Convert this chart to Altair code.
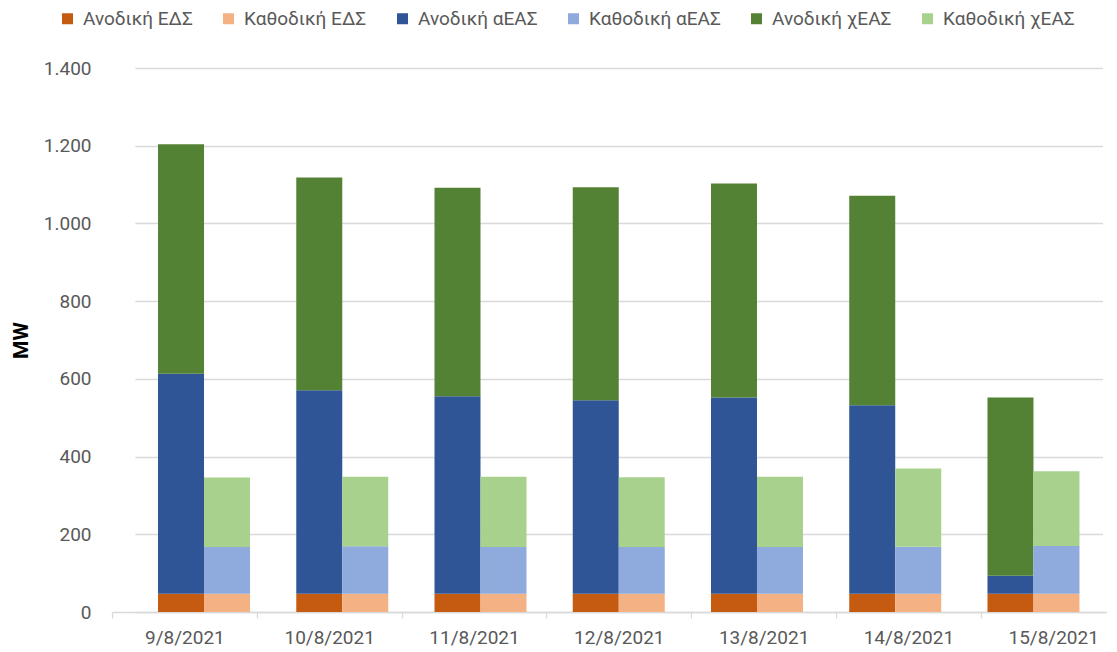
import altair as alt
import pandas as pd

dates = ["9/8/2021", "10/8/2021", "11/8/2021", "12/8/2021", "13/8/2021", "14/8/2021", "15/8/2021"]
directions = ["Ανοδική", "Καθοδική"]
types = ["ΕΔΣ", "αΕΑΣ", "χΕΑΣ"]

up_eds = [47, 47, 47, 47, 47, 47, 47]
up_a = [566, 524, 508, 498, 505, 485, 46]
up_x = [591, 547, 537, 548, 551, 539, 459]
down_eds = [47, 47, 47, 47, 47, 47, 47]
down_a = [120, 122, 120, 120, 120, 121, 123]
down_x = [179, 179, 181, 180, 181, 201, 192]

series_order = ["Ανοδική ΕΔΣ", "Καθοδική ΕΔΣ", "Ανοδική αΕΑΣ", "Καθοδική αΕΑΣ", "Ανοδική χΕΑΣ", "Καθοδική χΕΑΣ"]
series_colors = ["#C55A11", "#F4B183", "#2F5597", "#8FAADC", "#548235", "#A9D18E"]

values = {
    ("Ανοδική", "ΕΔΣ"): up_eds,
    ("Ανοδική", "αΕΑΣ"): up_a,
    ("Ανοδική", "χΕΑΣ"): up_x,
    ("Καθοδική", "ΕΔΣ"): down_eds,
    ("Καθοδική", "αΕΑΣ"): down_a,
    ("Καθοδική", "χΕΑΣ"): down_x,
}

rows = []
for (d, t), vals in values.items():
    for date, v in zip(dates, vals):
        rows.append({"date": date, "dir": d, "type": t, "tidx": types.index(t),
                     "series": f"{d} {t}", "value": v})
df = pd.DataFrame(rows)
axis_df = pd.DataFrame({"date": dates})

FONT = "Roboto"
GRAY = "#595959"
LINE = "#D9D9D9"

bars = alt.Chart(df).mark_bar().encode(
    x=alt.X("date:N", sort=dates, axis=None,
            scale=alt.Scale(type="band", range=[22.9, 990.6], paddingInner=0, paddingOuter=0)),
    xOffset=alt.XOffset("dir:N", sort=directions,
                        scale=alt.Scale(domain=directions, paddingInner=0, paddingOuter=0.5027)),
    y=alt.Y("value:Q", stack="zero",
            scale=alt.Scale(domain=[0, 1400], nice=False),
            axis=alt.Axis(values=[0, 200, 400, 600, 800, 1000, 1200, 1400],
                          labelExpr="replace(format(datum.value, ','), ',', '.')",
                          title="MW", titleFont=FONT, titleFontSize=21, titleFontWeight="bold",
                          titleColor="black", titleX=-91, titleY=272, titleAngle=270,
                          titleAlign="center", titleBaseline="middle",
                          labelFont=FONT, labelFontSize=19, labelColor=GRAY, labelPadding=21,
                          domain=False, ticks=False, grid=True, gridColor=LINE, gridWidth=1.3)),
    color=alt.Color("series:N",
                    scale=alt.Scale(domain=series_order, range=series_colors),
                    legend=alt.Legend(orient="none", legendX=-54, legendY=-59, direction="horizontal",
                                      columns=6, title=None, symbolType="square", symbolSize=121,
                                      symbolStrokeWidth=0, labelFont=FONT, labelFontSize=19,
                                      labelColor=GRAY, columnPadding=26, labelOffset=6)),
    order=alt.Order("tidx:Q", sort="ascending"),
)

axis_layer = alt.Chart(axis_df).mark_point(opacity=0).encode(
    x=alt.X("date:N", sort=dates, title=None,
            scale=alt.Scale(type="band", range=[0, 1013.6], paddingInner=0, paddingOuter=0),
            axis=alt.Axis(labelAngle=0, labelFont=FONT, labelFontSize=19, labelColor=GRAY,
                          labelPadding=10, tickBand="extent", tickSize=6, tickColor=LINE,
                          tickWidth=1.3, domainColor=LINE, domainWidth=1.3, grid=False)),
)

chart = alt.layer(bars, axis_layer).resolve_scale(x="independent").properties(
    width=995, height=544,
    autosize=alt.AutoSizeParams(type="none"),
    padding={"left": 104, "top": 60, "right": 0, "bottom": 40},
).configure_view(stroke=None)

chart.save("out.html", embed_options={"renderer": "svg", "actions": False})
